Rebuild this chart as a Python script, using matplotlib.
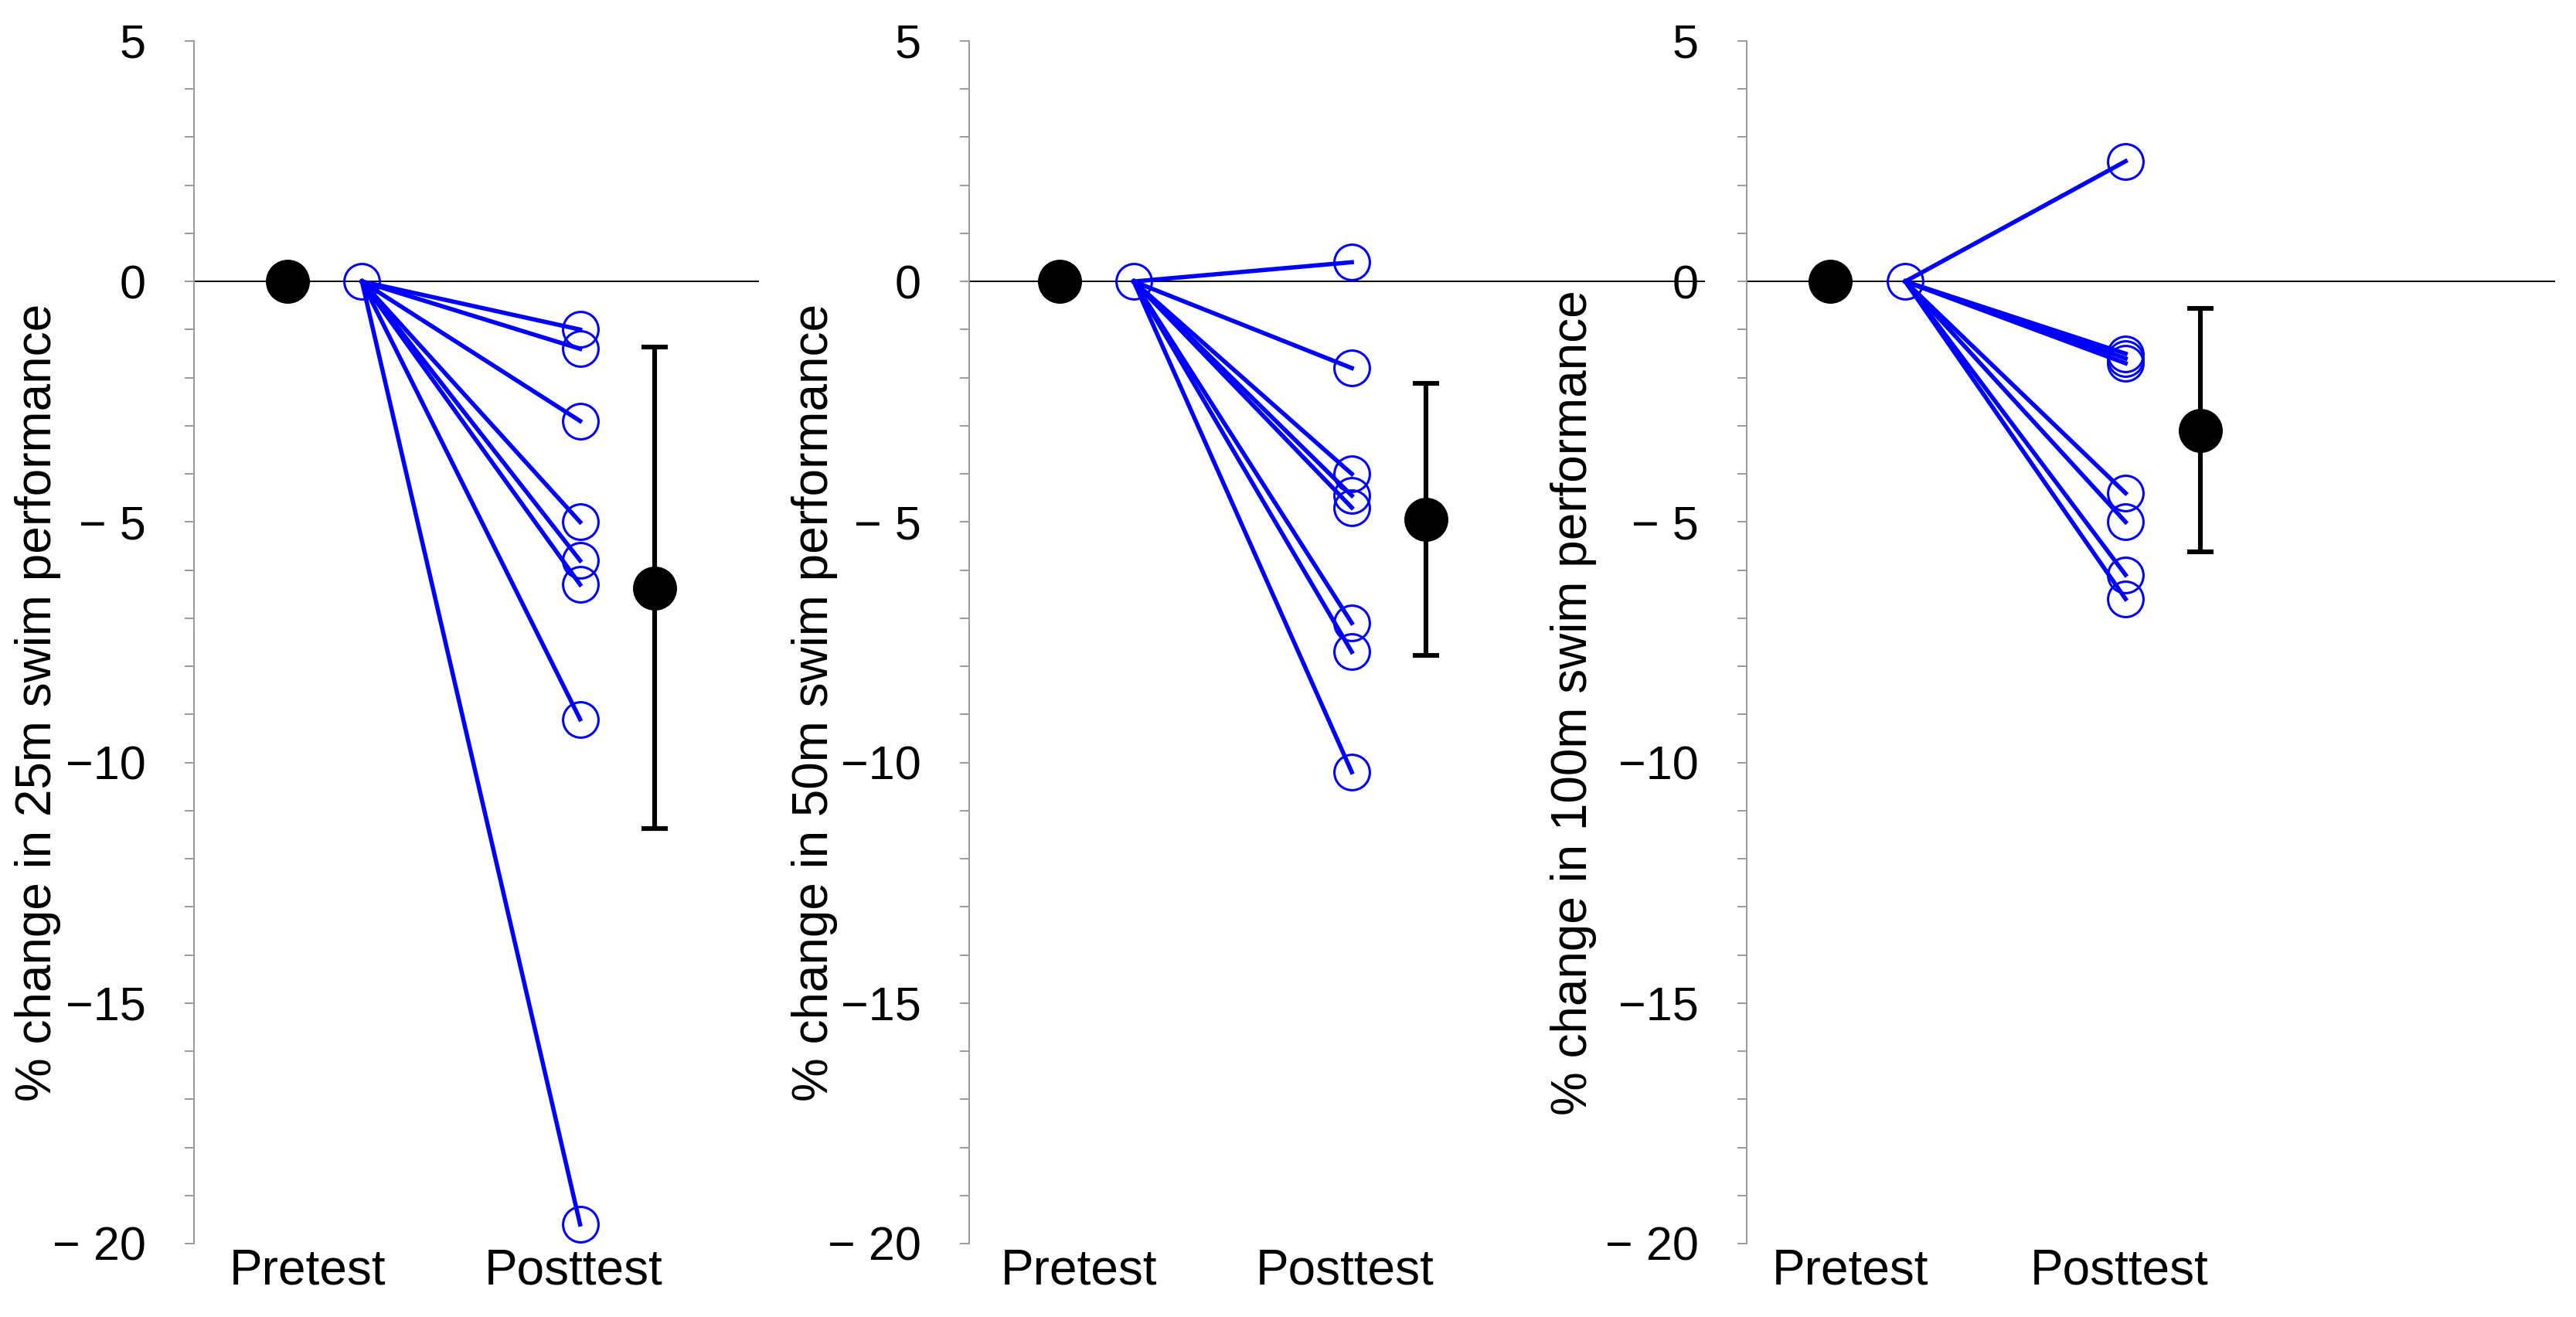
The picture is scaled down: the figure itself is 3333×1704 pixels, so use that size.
import matplotlib
matplotlib.use("Agg")
import matplotlib.pyplot as plt
import numpy as np

plt.rcParams['font.family'] = ['Liberation Sans', 'DejaVu Sans']

# Data (% change, posttest vs pretest)
labels = ['25m', '50m', '100m']
post_25 = [-1.0, -1.4, -2.9, -5.0, -5.8, -6.3, -9.1, -19.6]
post_50 = [0.4, -1.8, -4.0, -4.45, -4.7, -7.1, -7.7, -10.2]
post_100 = [2.5, -1.5, -1.6, -1.7, -4.4, -5.0, -6.1, -6.6]
means = [-6.37, -4.94, -3.09]
sds = [5.0, 2.83, 2.53]
posts = [post_25, post_50, post_100]
tick_names = ['Pretest', 'Posttest']

# x positions (data units)
x_pre_mean, x_pre, x_post, x_post_mean = 0.66, 1.0, 2.0, 2.34

# axes placement in pixels on a 3333x1704 canvas: (left, width, xlim, ylabel x)
W, H = 3333, 1704
panels = [(251, 731, (0.23, 2.82), -0.235),
          (1254, 952, (0.245, 3.62), -0.179),
          (2260, 1046, (0.28, 3.95), -0.185)]
y_top, y_bot = 53, 1609

fig = plt.figure(figsize=(W / 200, H / 200), dpi=200)

for i, (left, width, xl, lab_x) in enumerate(panels):
    ax = fig.add_axes([left / W, (H - y_bot) / H, width / W, (y_bot - y_top) / H])
    post = posts[i]
    ax.axhline(0, color='black', lw=0.7, zorder=1)
    for v in post:
        ax.plot([x_pre, x_post], [0, v], color='#0000ff', lw=2.0, zorder=2)
    ax.plot([x_pre], [0], 'o', ms=16.5, mfc='none', mec='#0000ff', mew=1.1, zorder=3)
    ax.plot([x_post] * len(post), post, 'o', ms=16.5, mfc='none', mec='#0000ff',
            mew=1.1, ls='none', zorder=3)
    ax.plot([x_pre_mean], [0], 'o', ms=19.5, color='black', zorder=4)
    ax.errorbar([x_post_mean], [means[i]], yerr=[sds[i]], fmt='o', ms=19.5,
                color='black', ecolor='black', elinewidth=2.2, capsize=6,
                capthick=2.2, zorder=4)

    ax.set_xlim(*xl)
    ax.set_ylim(-20, 5)
    ax.set_yticks([5, 0, -5, -10, -15, -20])
    ax.set_yticklabels(['5', '0', '\u2212 5', '\u221210', '\u221215', '\u2212 20'])
    ax.set_yticks(np.arange(-20, 6, 1), minor=True)
    ax.tick_params(axis='y', which='both', direction='out', length=4.3, width=0.7,
                   color='#999999', labelsize=22, pad=18)
    ax.set_xticks([0.75, 1.97])
    ax.set_xticklabels(tick_names)
    ax.tick_params(axis='x', length=0, labelsize=23, pad=2)
    for s in ['top', 'right', 'bottom']:
        ax.spines[s].set_visible(False)
    ax.spines['left'].set_color('#999999')
    ax.spines['left'].set_linewidth(0.7)
    ax.set_ylabel('% change in ' + labels[i] + ' swim performance', fontsize=23)
    ax.yaxis.set_label_coords(lab_x, 0.45)
    ax.patch.set_alpha(0)

fig.savefig('out.png', dpi=200)
